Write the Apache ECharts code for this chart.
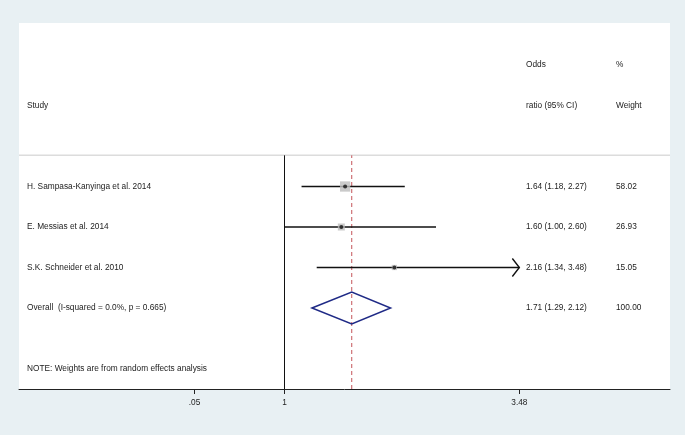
<!DOCTYPE html>
<html>
<head>
<meta charset="utf-8">
<script src="https://cdn.jsdelivr.net/npm/echarts@6/dist/echarts.min.js"></script>
<style>
html,body{margin:0;padding:0;background:#e8f0f3;}
#c{width:685px;height:435px;}
</style>
</head>
<body>
<div id="c"></div>
<script>
// ---- data ----
const studies = ['H. Sampasa-Kanyinga et al. 2014', 'E. Messias et al. 2014', 'S.K. Schneider et al. 2010'];
const orValues = [1.64, 1.60, 2.16];
const ciLow = [1.18, 1.00, 1.34];
const ciHigh = [2.27, 2.60, 3.48];
const weights = [58.02, 26.93, 15.05];
const overallLabel = 'Overall  (I-squared = 0.0%, p = 0.665)';
const overallOR = 1.71;
const overallLow = 1.29;
const overallHigh = 2.12;
const overallWeight = 100.00;
const noteText = 'NOTE: Weights are from random effects analysis';
const tickValues = [0.05, 1, 3.48];
const tickLabels = ['.05', '1', '3.48'];
const nullValue = 1;

// ---- layout (rows on y axis) ----
const rowY = [5, 4, 3];
const overallY = 2;
const noteY = 0.5;
const sepY = 5.77;
const headerY1 = 8, headerY2 = 7;
const xMin = -1.804, xMax = 5.071;
const colStudy = 27, colOR = 526, colW = 616;

const fmt = v => v.toFixed(2);
const textRows = [];
textRows.push([colOR, headerY1, 'Odds']);
textRows.push([colW, headerY1, '%']);
textRows.push([colStudy, headerY2, 'Study']);
textRows.push([colOR, headerY2, 'ratio (95% CI)']);
textRows.push([colW, headerY2, 'Weight']);
studies.forEach((s, i) => {
  textRows.push([colStudy, rowY[i], s]);
  textRows.push([colOR, rowY[i], fmt(orValues[i]) + ' (' + fmt(ciLow[i]) + ', ' + fmt(ciHigh[i]) + ')']);
  textRows.push([colW, rowY[i], fmt(weights[i])]);
});
textRows.push([colStudy, overallY, overallLabel]);
textRows.push([colOR, overallY, fmt(overallOR) + ' (' + fmt(overallLow) + ', ' + fmt(overallHigh) + ')']);
textRows.push([colW, overallY, overallWeight.toFixed(2)]);
textRows.push([colStudy, noteY, noteText]);

const chart = echarts.init(document.getElementById('c'), null, {renderer: 'canvas'});
const FONT = '"Liberation Sans", Arial, sans-serif';
const FS = 8.3;
const maxTick = tickValues[tickValues.length - 1];

// reference lines: [x0, y0, x1, y1, kind]
const refLines = [
  [xMin, sepY, xMax, sepY, 0],
  [nullValue, 0, nullValue, sepY, 1],
  [overallOR, 0, overallOR, sepY, 2]
];
const refStyles = [
  {stroke: '#dcdcdc', lineWidth: 1.5},
  {stroke: '#111111', lineWidth: 1},
  {stroke: '#c4545a', lineWidth: 1, lineDash: [4, 3]}
];

chart.setOption({
  backgroundColor: '#e8f0f3',
  animation: false,
  grid: {left: 19, right: 15, top: 23, bottom: 46, show: true, backgroundColor: '#ffffff', borderWidth: 0},
  xAxis: {
    type: 'value', min: xMin, max: xMax,
    axisLine: {show: true, onZero: false, lineStyle: {color: '#222', width: 1}},
    axisTick: {show: true, customValues: tickValues, length: 5, lineStyle: {color: '#222'}},
    axisLabel: {show: true, customValues: tickValues, color: '#222', fontSize: FS, fontFamily: FONT, margin: 10,
      formatter: v => { const i = tickValues.findIndex(t => Math.abs(t - v) < 1e-9); return i >= 0 ? tickLabels[i] : ''; }},
    splitLine: {show: false}
  },
  yAxis: {type: 'value', min: 0, max: 9.037, show: false, splitLine: {show: false}},
  series: [
    { // reference lines
      type: 'custom', silent: true, clip: false,
      data: refLines,
      renderItem: (params, api) => {
        const a = api.coord([api.value(0), api.value(1)]);
        const b = api.coord([api.value(2), api.value(3)]);
        return {type: 'line', shape: {x1: a[0], y1: a[1], x2: b[0], y2: b[1]}, style: refStyles[api.value(4)]};
      }
    },
    { // CI lines
      type: 'custom', silent: true,
      data: ciLow.map((lo, i) => [lo, ciHigh[i], rowY[i]]),
      renderItem: (params, api) => {
        const p1 = api.coord([api.value(0), api.value(2)]);
        const p2 = api.coord([api.value(1), api.value(2)]);
        const children = [{type: 'line', shape: {x1: p1[0], y1: p1[1], x2: p2[0], y2: p2[1]}, style: {stroke: '#111', lineWidth: 1.4}}];
        if (api.value(1) >= maxTick) {
          children.push({type: 'polyline', shape: {points: [[p2[0] - 7, p2[1] - 9], [p2[0], p2[1]], [p2[0] - 7, p2[1] + 9]]}, style: {stroke: '#111', lineWidth: 1.4, fill: null}});
        }
        return {type: 'group', children};
      }
    },
    { // weight squares
      type: 'scatter', silent: true, symbol: 'rect',
      data: orValues.map((v, i) => [v, rowY[i], weights[i]]),
      symbolSize: d => Math.sqrt(d[2]) * 1.35,
      itemStyle: {color: '#bdbdbd'}
    },
    { // point estimates
      type: 'scatter', silent: true, symbol: 'circle', symbolSize: 4,
      data: orValues.map((v, i) => [v, rowY[i]]),
      itemStyle: {color: '#111'}
    },
    { // overall diamond
      type: 'custom', silent: true,
      data: [[overallLow, overallOR, overallHigh, overallY]],
      renderItem: (params, api) => {
        const y = api.value(3);
        const l = api.coord([api.value(0), y]);
        const c = api.coord([api.value(1), y]);
        const r = api.coord([api.value(2), y]);
        const h = 16;
        return {type: 'polygon', shape: {points: [[l[0], l[1]], [c[0], c[1] - h], [r[0], r[1]], [c[0], c[1] + h]]},
          style: {stroke: '#1f2a86', lineWidth: 1.5, fill: null}};
      }
    },
    { // table text
      type: 'custom', silent: true,
      data: textRows.map(r => [0, r[1]]),
      renderItem: (params, api) => {
        const row = textRows[params.dataIndex];
        const p = api.coord([0, row[1]]);
        return {type: 'text', style: {x: row[0], y: p[1], text: row[2], fill: '#222', fontSize: FS, fontFamily: FONT, verticalAlign: 'middle', align: 'left'}};
      }
    }
  ]
});
</script>
</body>
</html>
